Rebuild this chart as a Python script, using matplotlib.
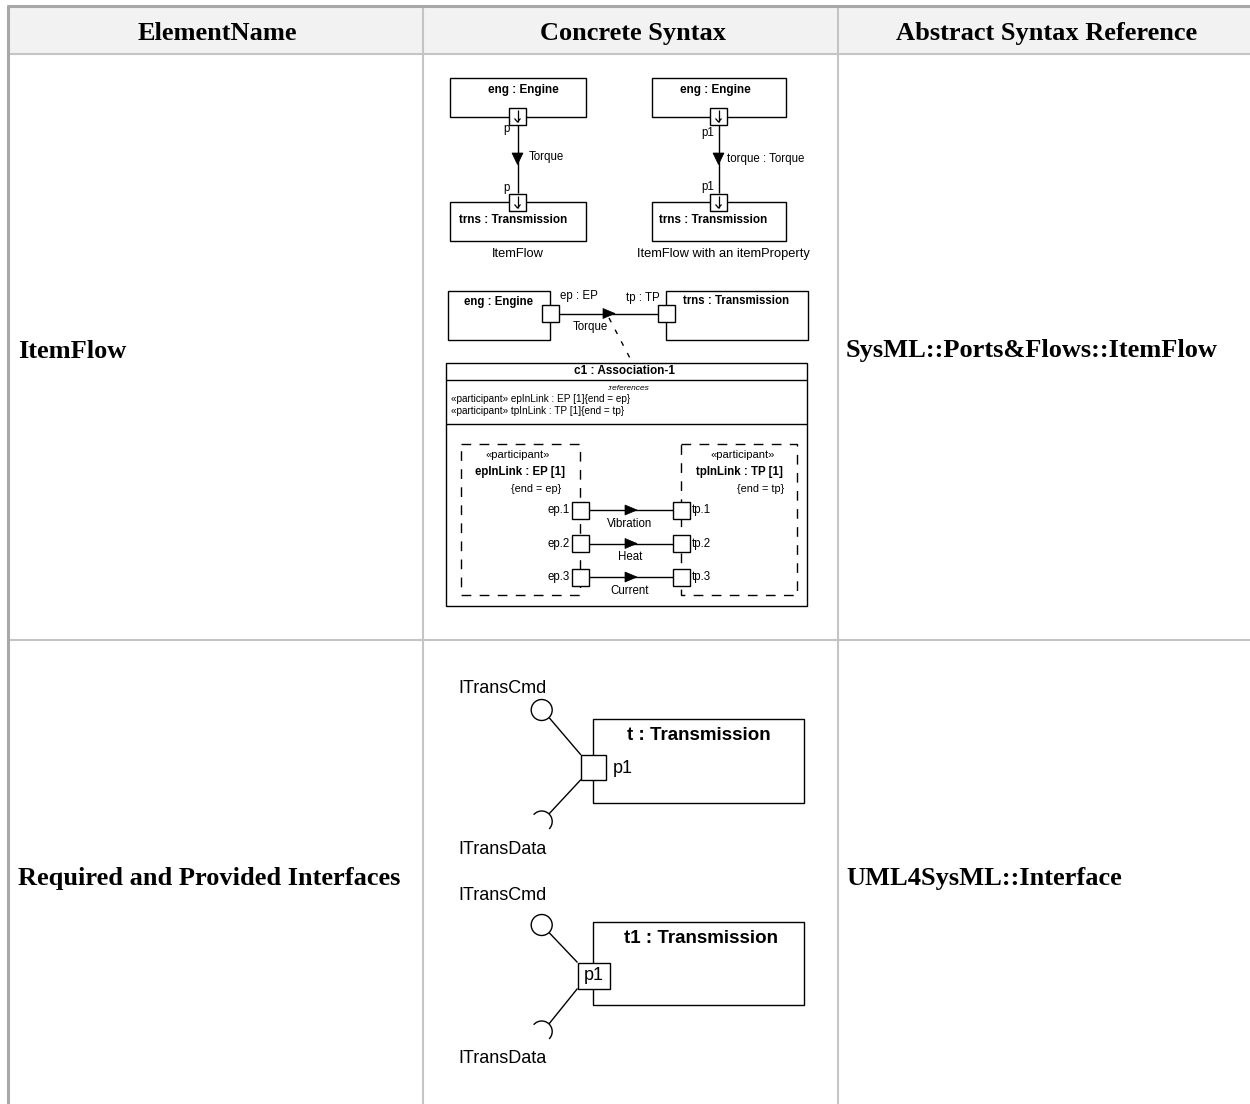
import matplotlib
matplotlib.use("Agg")
import matplotlib.pyplot as plt
from matplotlib.patches import Rectangle, Polygon, Circle, Arc

# table content
headers = ["ElementName", "Concrete Syntax", "Abstract Syntax Reference"]
element_names = ["ItemFlow", "Required and Provided Interfaces"]
abstract_refs = ["SysML::Ports&Flows::ItemFlow", "UML4SysML::Interface"]

# item flow diagrams
flow_captions = ["ItemFlow", "ItemFlow with an itemProperty"]
flow_labels = ["Torque", "torque : Torque"]
flow_ports = ["p", "p1"]
src_part = "eng : Engine"
dst_part = "trns : Transmission"

# association block diagram
ep_label, tp_label = "ep : EP", "tp : TP"
assoc_name = "c1 : Association-1"
assoc_refs = ["«participant» epInLink : EP [1]{end = ep}",
              "«participant» tpInLink : TP [1]{end = tp}"]
participants = [("epInLink : EP [1]", "{end = ep}"), ("tpInLink : TP [1]", "{end = tp}")]
sub_ports = ["1", "2", "3"]
sub_flows = ["Vibration", "Heat", "Current"]

# interface diagrams
iface_parts = ["t : Transmission", "t1 : Transmission"]
provided = "ITransCmd"
required = "ITransData"
iface_port = "p1"

SANS = "Liberation Sans"
SERIF = "Liberation Serif"

fig = plt.figure(figsize=(12.5, 11.04), dpi=100)
ax = fig.add_axes([0, 0, 1, 1])
ax.set_xlim(0, 1250)
ax.set_ylim(1104, 0)
ax.axis("off")


def line(xs, ys, lw=1.0, ls="-", color="black", z=3):
    ax.plot(xs, ys, color=color, lw=lw, ls=ls, solid_capstyle="butt", zorder=z)


def box(x0, y0, x1, y1, ls="-", lw=1.0, fc="white", z=2):
    ax.add_patch(Rectangle((x0, y0), x1 - x0, y1 - y0, fill=fc is not None,
                           facecolor=fc if fc else "none", edgecolor="black",
                           lw=lw, ls=ls, zorder=z))


def txt(x, y, s, size=8.5, ha="center", weight="normal", style="normal", family=SANS):
    ax.text(x, y, s, fontsize=size, ha=ha, va="center", fontweight=weight,
            fontstyle=style, family=family, zorder=5)


def tri(x, y, direction, w=11, h=11.5):
    # (x, y) is the tip
    if direction == "down":
        pts = [(x - w / 2, y - h), (x + w / 2, y - h), (x, y)]
    else:
        pts = [(x - h, y - w / 2), (x - h, y + w / 2), (x, y)]
    ax.add_patch(Polygon(pts, closed=True, facecolor="black", edgecolor="black", lw=0.5, zorder=4))


def flow_port(cx, cy):
    box(cx - 8.5, cy - 8.5, cx + 8.5, cy + 8.5, z=4)
    line([cx, cx], [cy - 6.5, cy + 6], lw=0.9, z=5)
    line([cx - 3, cx, cx + 3], [cy + 2.5, cy + 6, cy + 2.5], lw=0.9, z=5)


# ---- table ----
col_edges = [8, 423, 838, 1252]
row_edges = [6, 54, 640, 1110]
ax.add_patch(Rectangle((9, 7), 1243, 47, facecolor="#f2f2f2", edgecolor="none", zorder=0))
for xe in col_edges[1:3]:
    line([xe, xe], [54, 1104], lw=1.5, color="#c4c4c4", z=1)
    line([xe, xe], [7, 54], lw=1.5, color="#c4c4c4", z=1)
for ye in row_edges[1:3]:
    line([9, 1252], [ye, ye], lw=1.5, color="#c4c4c4", z=1)
line([8, 8], [5, 1104], lw=2.2, color="#a8a8a8", z=1)
line([6.5, 1252], [6, 6], lw=2.2, color="#a8a8a8", z=1)

for i, h in enumerate(headers):
    txt((col_edges[i] + col_edges[i + 1]) / 2 + 2, 33.5, h, size=19, weight="bold", family=SERIF)
row_mid = [351, 878]
for i, name in enumerate(element_names):
    txt(18, row_mid[i], name, size=19, ha="left", weight="bold", family=SERIF)
    txt(846, row_mid[i], abstract_refs[i], size=19, ha="left", weight="bold", family=SERIF)

# ---- item flow diagrams (top) ----
for k, (x0, x1, px) in enumerate([(449.5, 585.5, 517.5), (651.5, 785.5, 718.5)]):
    box(x0, 78, x1, 116.5)
    box(x0, 202, x1, 240.5)
    txt(523 if k == 0 else 715, 90, src_part, size=8.5, weight="bold")
    txt(513 if k == 0 else 713, 220, dst_part, size=8.5, weight="bold")
    line([px, px], [125, 193])
    flow_port(px, 116)
    flow_port(px, 202)
    tri(px, 164.5, "down")
    pl = flow_ports[k]
    txt(px - 11 if k == 0 else px - 10.5, 129 if k == 0 else 133, pl, size=8.3)
    txt(px - 11 if k == 0 else px - 10.5, 188 if k == 0 else 187, pl, size=8.3)
    txt(px + 11.5 if k == 0 else px + 8.5, 157 if k == 0 else 159, flow_labels[k], size=8.3, ha="left")
    txt(518 if k == 0 else 723, 254, flow_captions[k], size=9.3)

# ---- association block diagram (middle) ----
box(447.5, 291, 550, 340)
box(666, 291, 808, 340)
txt(499, 301.5, src_part, size=8.3, weight="bold")
txt(736, 301.5, dst_part, size=8.3, weight="bold")
line([558.5, 657.5], [313.5, 313.5])
box(541.5, 305, 558.5, 322, z=4)
box(657.5, 305, 674.5, 322, z=4)
tri(615, 313.5, "right", w=10, h=12)
txt(579, 296.5, ep_label, size=8.3)
txt(642.5, 298, tp_label, size=8.3)
txt(590.5, 327, flow_labels[0], size=8.3)
line([609, 632], [318, 362], ls=(0, (3.5, 6)))

box(446, 362.5, 806.5, 605.5)
line([446, 806.5], [379.5, 379.5])
line([446, 806.5], [423.5, 423.5])
txt(625, 371, assoc_name, size=8.5, weight="bold")
txt(629, 388, ":references", size=6, style="italic")
txt(451, 399.5, assoc_refs[0], size=7.2, ha="left")
txt(451, 411, assoc_refs[1], size=7.2, ha="left")

dash = (0, (7, 6))
box(461, 444, 580, 595, ls=dash, fc=None, z=3)
box(681, 444, 797, 595, ls=dash, fc=None, z=3)
txt(517.5, 455, "«participant»", size=8)
txt(520, 472.5, participants[0][0], size=8.3, weight="bold")
txt(536, 489.5, participants[0][1], size=7.8)
txt(743, 455, "«participant»", size=8)
txt(739, 472.5, participants[1][0], size=8.3, weight="bold")
txt(760.5, 489.5, participants[1][1], size=7.8)

for j, yy in enumerate([510, 543.5, 577]):
    line([588.5, 672.5], [yy, yy])
    box(571.5, yy - 8.5, 588.5, yy + 8.5, z=4)
    box(672.5, yy - 8.5, 689.5, yy + 8.5, z=4)
    tri(637, yy, "right", w=10, h=12)
    txt(570, yy, "ep." + sub_ports[j], size=8.3, ha="right")
    txt(691.5, yy, "tp." + sub_ports[j], size=8.3, ha="left")
    txt(630, yy + 14, sub_flows[j], size=8.3)

# ---- interface diagrams (bottom) ----
for k, (ytop, ybot, pb, pe) in enumerate([(718.5, 802.5, 755, 779.5), (921.5, 1005, 962.5, 988.5)]):
    box(593, ytop, 804, ybot)
    if k == 0:
        box(581, pb, 606, pe, z=4)
        txt(613, 768.5, iface_port, size=13, ha="left")
        txt(698.5, 736, iface_parts[k], size=13.5, weight="bold")
        ball_y, sock_y, top_lbl, bot_lbl = 710, 821.5, 688.5, 850
    else:
        box(577.5, pb, 610, pe, z=4)
        txt(593.8, 975.5, iface_port, size=13)
        txt(701.5, 938.5, iface_parts[k], size=13.5, weight="bold")
        ball_y, sock_y, top_lbl, bot_lbl = 925, 1031.5, 896, 1058.5
    px = 581 if k == 0 else 577.5
    r = 10.5
    ax.add_patch(Circle((541.7, ball_y), r, facecolor="white", edgecolor="black", lw=1.0, zorder=4))
    line([541.7 + r * 0.7, px], [ball_y + r * 0.72, pb])
    ax.add_patch(Arc((541.7, sock_y), 2 * r, 2 * r, theta1=-140, theta2=45, color="black", lw=1.0, zorder=4))
    line([541.7 + r * 0.69, px], [sock_y - r * 0.72, pe])
    txt(458, top_lbl, provided, size=13, ha="left")
    txt(458, bot_lbl, required, size=13, ha="left")

fig.savefig("out.png", dpi=100, facecolor="white")
